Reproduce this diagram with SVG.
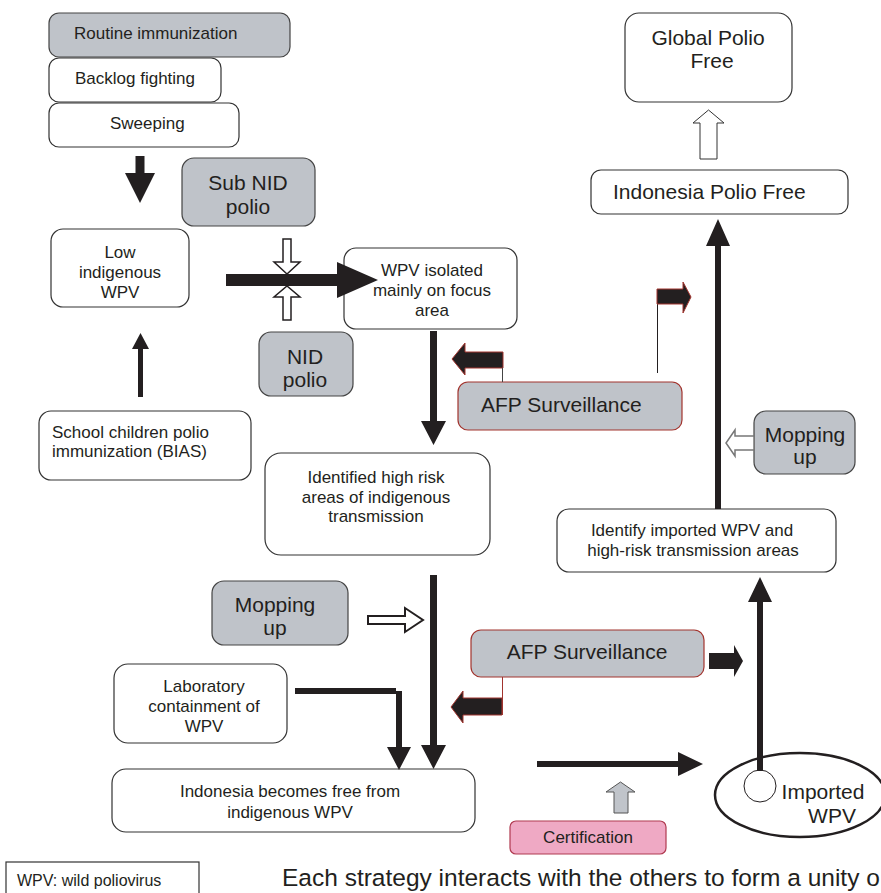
<svg xmlns="http://www.w3.org/2000/svg" width="881" height="893" viewBox="0 0 881 893">
<style>
.box{fill:#fff;stroke:#333;stroke-width:1.2}
.gray{fill:#bfc3c9;stroke:#444;stroke-width:1.2}
.afp{fill:#bfc3c9;stroke:#a2342e;stroke-width:1.2}
.cert{fill:#efa9c4;stroke:#b03a50;stroke-width:1.2}
text{font-family:"Liberation Sans",Arial,sans-serif;fill:#231f20}
.t17{font-size:17px}
.t21{font-size:21px}
.m{text-anchor:middle}
.blk{fill:#231f20}
.redb{fill:#231f20;stroke:#a2342e;stroke-width:1}
.hollow{fill:#fff;stroke:#231f20;stroke-width:1.5}
.gline{stroke:#444;stroke-width:1;fill:none}
.rline{stroke:#a2342e;stroke-width:1;fill:none}
</style>
<rect width="881" height="893" fill="#fff"/>
<g id="routine"><rect class="gray" x="49" y="13" width="241" height="44" rx="10"/><text class="t17" x="74" y="39">Routine immunization</text></g>
<g id="backlog"><rect class="box" x="49" y="58" width="172" height="44" rx="10"/><text class="t17" x="75" y="84">Backlog fighting</text></g>
<g id="sweeping"><rect class="box" x="49" y="103" width="190" height="44" rx="10"/><text class="t17" x="110" y="129">Sweeping</text></g>
<g id="subnid"><rect class="gray" x="182" y="158" width="133" height="68" rx="12"/><text class="t21 m" x="248" y="190">Sub NID</text><text class="t21 m" x="248" y="214">polio</text></g>
<g id="low"><rect class="box" x="51" y="229" width="138" height="78" rx="12"/><text class="t17 m" x="120" y="258">Low</text><text class="t17 m" x="120" y="278">indigenous</text><text class="t17 m" x="120" y="298">WPV</text></g>
<g id="wpviso"><rect class="box" x="344" y="248" width="173" height="81" rx="12"/><text class="t17 m" x="432" y="276">WPV isolated</text><text class="t17 m" x="432" y="296">mainly on focus</text><text class="t17 m" x="432" y="316">area</text></g>
<g id="nid"><rect class="gray" x="259" y="332" width="94" height="64" rx="12"/><text class="t21 m" x="305" y="364">NID</text><text class="t21 m" x="305" y="387">polio</text></g>
<g id="afp1"><rect class="afp" x="458" y="382" width="224" height="48" rx="10"/><text class="t21" x="481" y="412">AFP Surveillance</text></g>
<g id="school"><rect class="box" x="39" y="411" width="212" height="69" rx="12"/><text class="t17" x="52" y="438">School children polio</text><text class="t17" x="52" y="457">immunization (BIAS)</text></g>
<g id="identified"><rect class="box" x="265" y="453" width="225" height="102" rx="16"/><text class="t17 m" x="376" y="483">Identified high risk</text><text class="t17 m" x="376" y="503">areas of indigenous</text><text class="t17 m" x="376" y="522">transmission</text></g>
<g id="global"><rect class="box" x="625" y="13" width="167" height="89" rx="14"/><text class="t21 m" x="708" y="45">Global Polio</text><text class="t21 m" x="712" y="68">Free</text></g>
<g id="indofree"><rect class="box" x="591" y="170" width="257" height="44" rx="10"/><text class="t21" x="613" y="199">Indonesia Polio Free</text></g>
<g id="mopright"><rect class="gray" x="754" y="411" width="101" height="63" rx="12"/><text class="t21 m" x="805" y="442">Mopping</text><text class="t21 m" x="805" y="464">up</text></g>
<g id="identify"><rect class="box" x="557" y="509" width="279" height="63" rx="12"/><text class="t17 m" x="692" y="536">Identify imported WPV and</text><text class="t17 m" x="693" y="556">high-risk transmission areas</text></g>
<g id="mopleft"><rect class="gray" x="212" y="581" width="136" height="64" rx="12"/><text class="t21 m" x="275" y="612">Mopping</text><text class="t21 m" x="275" y="635">up</text></g>
<g id="lab"><rect class="box" x="114" y="664" width="173" height="79" rx="14"/><text class="t17 m" x="204" y="692">Laboratory</text><text class="t17 m" x="204" y="712">containment of</text><text class="t17 m" x="204" y="732">WPV</text></g>
<g id="afp2"><rect class="afp" x="471" y="630" width="233" height="47" rx="10"/><text class="t21 m" x="587" y="659">AFP Surveillance</text></g>
<g id="becomesfree"><rect class="box" x="112" y="769" width="363" height="63" rx="14"/><text class="t17 m" x="290" y="797">Indonesia becomes free from</text><text class="t17 m" x="290" y="818">indigenous WPV</text></g>
<g id="cert"><rect class="cert" x="510" y="821" width="156" height="33" rx="6"/><text class="t17 m" x="588" y="843">Certification</text></g>
<g id="imported"><ellipse cx="800" cy="795" rx="85" ry="42" fill="#fff" stroke="#231f20" stroke-width="2.5"/><circle cx="760" cy="786" r="16" fill="#fff" stroke="#231f20" stroke-width="1"/><text class="t21 m" x="823" y="799">Imported</text><text class="t21 m" x="832" y="823">WPV</text></g>
<g id="legend"><rect class="box" x="6" y="862" width="193" height="40"/><text x="17" y="886" font-size="16">WPV:  wild poliovirus</text></g>
<g id="caption"><text x="282" y="886" font-size="24.5">Each strategy interacts with the others to form a unity o</text></g>
<g id="connectors">
<polygon class="blk" points="135.5,156 144.5,156 144.5,173 155,173 140,203 125,173 135.5,173"/>
<polygon class="blk" points="226,274 337,274 337,262 378,280 337,298 337,286 226,286"/>
<polygon class="hollow" points="283,239 291,239 291,262 300,262 287,274 274,262 283,262"/>
<polygon class="hollow" points="283,320 291,320 291,297 300,297 287,286 274,297 283,297"/>
<polygon class="blk" points="138,397 143,397 143,349 149,349 140.5,333 132,349 138,349"/>
<polygon class="blk" points="430,331 437,331 437,421 446,421 433.5,445 421,421 430,421"/>
<polygon class="redb" points="503,352 465,352 465,343 452,359 465,375 465,368 503,368"/>
<line class="gline" x1="502.5" y1="368" x2="502.5" y2="382"/>
<line x1="657.5" y1="304" x2="657.5" y2="373" stroke="#231f20" stroke-width="1"/>
<polygon class="redb" points="657,289 683,289 683,282 691,297 683,313 683,304 657,304"/>
<polygon class="blk" points="715,509 721,509 721,246 730,246 718,219 706,246 715,246"/>
<polygon fill="#fff" stroke="#333" stroke-width="1" points="700,159 717,159 717,123 724,123 708.5,110 693,123 700,123"/>
<polygon fill="#fff" stroke="#777" stroke-width="1.5" points="754,436 735,436 735,430 726,443 735,456 735,450 754,450"/>
<polygon fill="#fff" stroke="#231f20" stroke-width="2" points="368,616 405,616 405,608 423,620 405,632 405,624 368,624"/>
<polygon class="blk" points="430,575 437,575 437,745 446,745 433.5,769 421,745 430,745"/>
<rect class="blk" x="295" y="688" width="101" height="6"/>
<polygon class="blk" points="396,691 402,691 402,747 411,747 399,770 387,747 396,747"/>
<polygon class="redb" points="502,698 463,698 463,691 451,707 463,723 463,715 502,715"/>
<line class="rline" x1="502.5" y1="677" x2="502.5" y2="715"/>
<polygon class="blk" points="709,653 734,653 734,645 743,661 734,677 734,669 709,669"/>
<polygon class="blk" points="757,771 763,771 763,602 772,602 760,577 748,602 757,602"/>
<polygon class="blk" points="537,761 678,761 678,752 703,764 678,776 678,767 537,767"/>
<polygon fill="#c0c4ca" stroke="#555" stroke-width="1" points="614,813 628,813 628,792 635,792 620.5,782 606,792 614,792"/>
</g>
</svg>
